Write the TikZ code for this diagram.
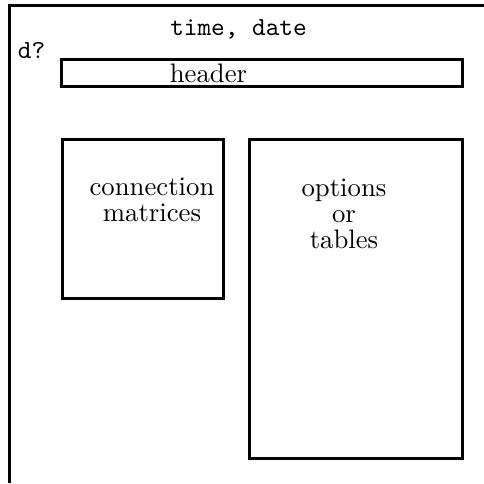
\documentclass[tikz,border=0pt]{standalone}
\begin{document}
\begin{tikzpicture}[x=0.4pt,y=-0.4pt,
  frame/.style={line width=1.2pt},
  boxshape/.style={draw,line width=1.2pt,rectangle,inner sep=0pt},
  lbl/.style={inner sep=0pt,align=center,font=\fontsize{10.7}{10.3}\selectfont},
  ttlbl/.style={inner sep=0pt,font=\fontsize{10.4}{12}\selectfont\ttfamily}]
\useasboundingbox (0,0) rectangle (484,483);
\coordinate (fb) at (9,483);
\coordinate (fc) at (9,5.5);
\coordinate (fr) at (484,5.5);
\draw[frame] (fb) -- (fc) -- (fr);
\node[boxshape,minimum width=160pt,minimum height=10.8pt] (header) at (262,72.5) {};
\node[boxshape,minimum width=64.4pt,minimum height=63.6pt] (conn) at (142.5,218.5) {};
\node[boxshape,minimum width=85.2pt,minimum height=127.6pt] (opt) at (355.5,298.5) {};
\node[ttlbl] (time) at (238.5,29) {time, date};
\node[ttlbl] (d) at (31.5,51) {d?};
\node[lbl] (htext) at (208.5,73.5) {header};
\node[lbl] (ctext) at (152,200) {connection\\matrices};
\node[lbl] (otext) at (344,214) {options\\or\\tables};
\end{tikzpicture}
\end{document}
